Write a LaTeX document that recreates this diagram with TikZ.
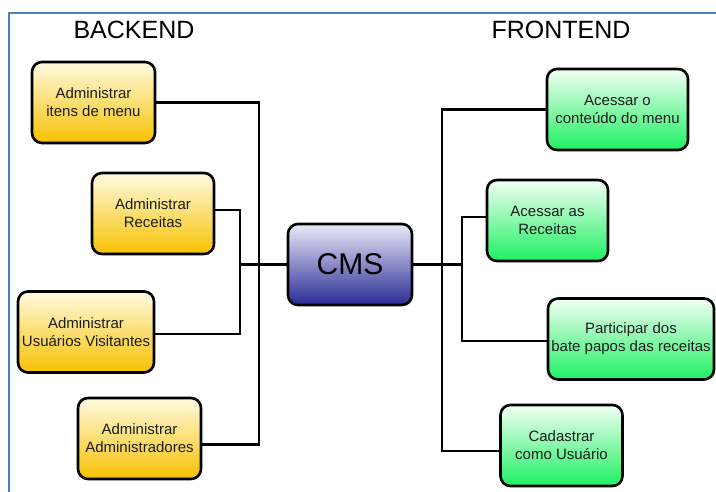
\documentclass[tikz,border=0pt]{standalone}
\usepackage{fontspec}
\setmainfont{Liberation Sans}
\usetikzlibrary{positioning}

\definecolor{frameblue}{HTML}{4F81BD}
\definecolor{inkgray}{HTML}{1C1C1C}
\definecolor{backtop}{HTML}{FFFBE2}
\definecolor{backbot}{HTML}{F7C100}
\definecolor{fronttop}{HTML}{F2FFF4}
\definecolor{frontbot}{HTML}{1EF062}
\definecolor{cmstop}{HTML}{EAEAFA}
\definecolor{cmsbot}{HTML}{2A2A94}

\begin{document}
\begin{tikzpicture}[
      x=1pt, y=-1pt,
      card/.style={draw=black, line width=2.6pt, rounded corners=10pt, inner sep=0pt,
                   minimum height=81pt, align=center, text=inkgray,
                   font=\fontsize{15}{18}\selectfont},
      back/.style={card, top color=backtop, bottom color=backbot},
      front/.style={card, top color=fronttop, bottom color=frontbot},
      core/.style={card, top color=cmstop, bottom color=cmsbot, text=black,
                   font=\fontsize{30}{34}\selectfont},
      hdr/.style={font=\fontsize{25}{28}\selectfont, text=black},
      wire/.style={line width=2.8pt, line cap=rect},
    ]
    \useasboundingbox (0,0) rectangle (716,492);

    % frame edges
    \draw[frameblue, line width=2pt] (9,492) -- (9,13) -- (716,13);

    \node[hdr] (hback) at (134,30) {BACKEND};
    \node[hdr] (hfront) at (561,30) {FRONTEND};

    \node[core, minimum width=124pt] (cms) at (350,264.5) {CMS};

    % backend side
    \node[back, minimum width=123pt] (admmenu) at (93.5,102.5) {Administrar\\itens de menu};
    \node[back, minimum width=122pt] (admrec) at (153,213.5) {Administrar\\Receitas};
    \node[back, minimum width=136pt] (admvis) at (86,332) {Administrar\\Usuários Visitantes};
    \node[back, minimum width=123pt] (admadm) at (139.5,438.5) {Administrar\\Administradores};

    % frontend side
    \node[front, minimum width=141pt] (menu) at (617.5,109.5) {Acessar o\\conteúdo do menu};
    \node[front, minimum width=121pt] (rec) at (547.5,220.5) {Acessar as\\Receitas};
    \node[front, minimum width=166pt] (chat) at (631,339) {Participar dos\\bate papos das receitas};
    \node[front, minimum width=122pt] (user) at (561.5,445.5) {Cadastrar\\como Usuário};

    % trunk lines
    \coordinate (trunkA) at (259,0);
    \coordinate (trunkB) at (240,0);
    \coordinate (trunkC) at (442,0);
    \coordinate (trunkD) at (462,0);

    \coordinate (admrecw) at ([yshift=3.5pt]admrec.east);
    \coordinate (admvisw) at ([yshift=-2pt]admvis.east);
    \coordinate (admadmw) at ([yshift=-6pt]admadm.east);
    \coordinate (recw) at ([yshift=3.5pt]rec.west);
    \coordinate (chatw) at ([yshift=-2pt]chat.west);
    \coordinate (userw) at ([yshift=-5.5pt]user.west);

    \draw[wire] (admmenu.east) -| (trunkA |- admadmw) -- (admadmw);
    \draw[wire] (admrecw) -| (trunkB |- admvisw) -- (admvisw);
    \draw[wire] (cms.west) -- (trunkB |- cms.west);

    \draw[wire] (menu.west) -| (trunkC |- userw) -- (userw);
    \draw[wire] (recw) -| (trunkD |- chatw) -- (chatw);
    \draw[wire] (cms.east) -- (trunkD |- cms.east);
  \end{tikzpicture}
\end{document}
